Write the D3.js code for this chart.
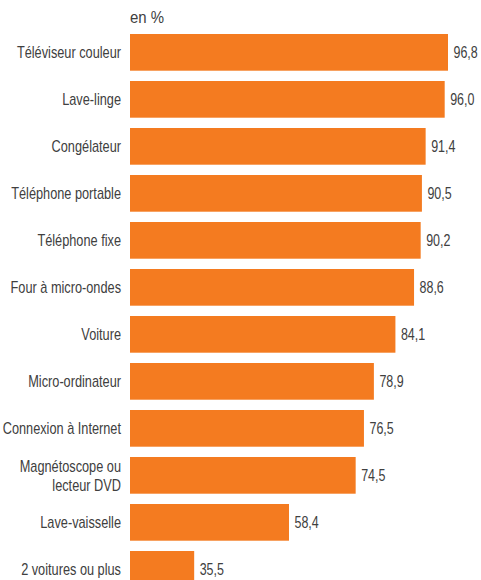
<!DOCTYPE html>
<html><head><meta charset="utf-8">
<script src="https://cdn.jsdelivr.net/npm/d3@7"></script>
<style>
body{margin:0;background:#fff;}
svg{display:block;}
</style></head>
<body>
<script>
const categories = ["Téléviseur couleur","Lave-linge","Congélateur","Téléphone portable","Téléphone fixe","Four à micro-ondes","Voiture","Micro-ordinateur","Connexion à Internet","Magnétoscope ou\nlecteur DVD","Lave-vaisselle","2 voitures ou plus"];
const values = [96.8,96.0,91.4,90.5,90.2,88.6,84.1,78.9,76.5,74.5,58.4,35.5];
const unitLabel = "en %";

const W = 481, H = 580;
const svg = d3.select("body").append("svg").attr("width", W).attr("height", H);

const x = d3.scaleLinear().domain([20, 100]).range([130, 461.25]);
const y = d3.scaleBand().domain(categories).range([34, 34 + 47*11 + 36.7]).paddingInner(10.3/47).paddingOuter(0).align(0);

const font = "'Liberation Sans',Arial,sans-serif";
const col = "#404040";

svg.append("text").attr("font-family", "'Liberation Sans',Arial,sans-serif")
  .attr("font-size", 17).attr("fill", col)
  .attr("transform", "translate(130,23) scale(0.88,1)")
  .text(unitLabel);

svg.selectAll("rect.bar").data(values).join("rect").attr("class","bar")
  .attr("x", x(20)).attr("y", (d,i)=>y(categories[i]))
  .attr("width", d=>x(d)-x(20)).attr("height", y.bandwidth())
  .attr("fill", "#F47B20");

svg.selectAll("text.val").data(values).join("text").attr("class","val")
  .attr("transform", (d,i)=>`translate(${x(d)+5.5},${y(categories[i])+y.bandwidth()/2}) scale(0.78,1)`)
  .attr("dy","0.36em").attr("font-family", font).attr("font-size", 16).attr("fill", col)
  .text(d=>d.toFixed(1).replace(".", ","));

const lab = svg.selectAll("text.cat").data(categories).join("text").attr("class","cat")
  .attr("transform", c=>`translate(121,${y(c)+y.bandwidth()/2}) scale(0.75,1)`)
  .attr("text-anchor","end").attr("font-family", font).attr("font-size", 17).attr("fill", col);
lab.each(function(c){
  const lines = c.split("\n");
  const t = d3.select(this);
  lines.forEach((l,k)=>{
    t.append("tspan").attr("x",0).attr("y", (k-(lines.length-1)/2)*19).attr("dy","0.36em").text(l);
  });
});
</script>
</body></html>
